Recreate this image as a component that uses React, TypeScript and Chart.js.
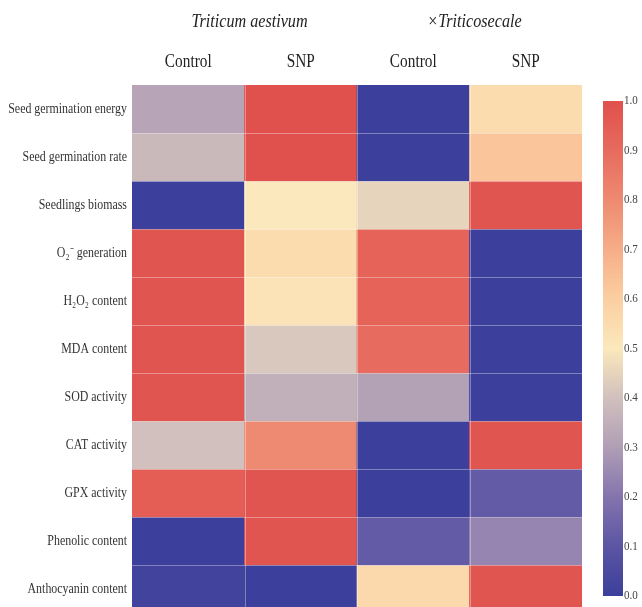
import { useEffect, useRef } from "react";
import { Chart, registerables } from "chart.js";

Chart.register(...registerables);

// Column groups and treatments
const species = ["Triticum aestivum", "×Triticosecale"];
const treatments = ["Control", "SNP", "Control", "SNP"];

// Row labels (traits)
const traits = [
  "Seed germination energy",
  "Seed germination rate",
  "Seedlings biomass",
  "O₂⁻ generation",
  "H₂O₂ content",
  "MDA content",
  "SOD activity",
  "CAT activity",
  "GPX activity",
  "Phenolic content",
  "Anthocyanin content",
];

// Normalised values, one array per column
const aestivumControl = [0.32, 0.38, 0.0, 0.98, 0.98, 0.98, 0.98, 0.4, 0.95, 0.0, 0.02];
const aestivumSnp = [1.0, 1.0, 0.5, 0.55, 0.52, 0.42, 0.35, 0.8, 0.98, 0.98, 0.0];
const secaleControl = [0.0, 0.0, 0.45, 0.93, 0.93, 0.9, 0.31, 0.0, 0.0, 0.12, 0.56];
const secaleSnp = [0.55, 0.63, 0.98, 0.0, 0.0, 0.0, 0.0, 0.98, 0.12, 0.24, 0.98];

// Colour bar ticks
const colorbarTicks = [0.0, 0.1, 0.2, 0.3, 0.4, 0.5, 0.6, 0.7, 0.8, 0.9, 1.0];

// Diverging colour map: blue -> pale yellow -> red
const cmapStops: [number, string][] = [
  [0.0, "#3c3f9b"],
  [0.1, "#5b55a3"],
  [0.2, "#8474ad"],
  [0.3, "#b09eb5"],
  [0.4, "#d1c0bd"],
  [0.5, "#fbe8bc"],
  [0.6, "#fbcfa1"],
  [0.7, "#f6ad88"],
  [0.8, "#ee8a71"],
  [0.9, "#e76b5e"],
  [1.0, "#e0504c"],
];

const FONT = '"Liberation Serif", "Times New Roman", serif';
const SQUEEZE = 0.85;

function hexToRgb(h: string): number[] {
  const n = parseInt(h.slice(1), 16);
  return [(n >> 16) & 255, (n >> 8) & 255, n & 255];
}

function colorFor(v: number): string {
  const t = Math.max(0, Math.min(1, v));
  for (let i = 0; i < cmapStops.length - 1; i++) {
    const [a, ca] = cmapStops[i];
    const [b, cb] = cmapStops[i + 1];
    if (t >= a && t <= b) {
      const f = (t - a) / (b - a);
      const A = hexToRgb(ca);
      const B = hexToRgb(cb);
      const c = A.map((x, k) => Math.round(x + (B[k] - x) * f));
      return `rgb(${c[0]},${c[1]},${c[2]})`;
    }
  }
  return cmapStops[cmapStops.length - 1][1];
}

// Narrow serif text, as in the typeset figure
function condensedText(
  ctx: CanvasRenderingContext2D,
  text: string,
  x: number,
  y: number,
  font: string,
  align: CanvasTextAlign,
  color: string
) {
  ctx.save();
  ctx.font = font;
  ctx.fillStyle = color;
  ctx.textAlign = align;
  ctx.textBaseline = "middle";
  ctx.translate(x, y);
  ctx.scale(SQUEEZE, 1);
  ctx.fillText(text, 0, 0);
  ctx.restore();
}

const columns = [aestivumControl, aestivumSnp, secaleControl, secaleSnp];

// Thin light lines between cells
const cellLines = {
  id: "cellLines",
  afterDatasetsDraw(chart: any) {
    const { ctx, chartArea, scales } = chart;
    const x = scales.x;
    const y = scales.y;
    ctx.save();
    ctx.strokeStyle = "rgba(255,255,255,0.35)";
    ctx.lineWidth = 1;
    ctx.beginPath();
    for (let c = 1; c < treatments.length; c++) {
      const px = Math.round((x.getPixelForValue(c - 1) + x.getPixelForValue(c)) / 2) + 0.5;
      ctx.moveTo(px, chartArea.top);
      ctx.lineTo(px, chartArea.bottom);
    }
    for (let r = 1; r < traits.length; r++) {
      const py = Math.round(y.getPixelForValue(r)) + 0.5;
      ctx.moveTo(chartArea.left, py);
      ctx.lineTo(chartArea.right, py);
    }
    ctx.stroke();
    ctx.restore();
  },
};

// Axis labels and species headers
const axisLabels = {
  id: "axisLabels",
  afterDraw(chart: any) {
    const { ctx, scales, chartArea } = chart;
    const x = scales.x;
    const y = scales.y;
    traits.forEach((name, r) => {
      condensedText(ctx, name, chartArea.left - 5, y.getPixelForValue(r + 0.5), `14px ${FONT}`, "right", "#333");
    });
    treatments.forEach((name, c) => {
      condensedText(ctx, name, x.getPixelForValue(c), 62, `18px ${FONT}`, "center", "#222");
    });
    species.forEach((name, i) => {
      const cx = (x.getPixelForValue(i * 2) + x.getPixelForValue(i * 2 + 1)) / 2 + 5;
      condensedText(ctx, name, cx, 22, `italic 19px ${FONT}`, "center", "#222");
    });
  },
};

// Vertical colour bar on the right
const colorBar = {
  id: "colorBar",
  afterDraw(chart: any) {
    const { ctx } = chart;
    const left = 603;
    const width = 20;
    const top = 101;
    const bottom = 596;
    ctx.save();
    const grad = ctx.createLinearGradient(0, bottom, 0, top);
    cmapStops.forEach(([s, c]) => grad.addColorStop(s, c));
    ctx.fillStyle = grad;
    ctx.fillRect(left, top, width, bottom - top);
    ctx.restore();
    colorbarTicks.forEach((t) => {
      const py = bottom - (bottom - top) * t;
      condensedText(ctx, t.toFixed(1), left + width + 1, py, `13px ${FONT}`, "left", "#444");
    });
  },
};

export default function App() {
  const ref = useRef<HTMLCanvasElement | null>(null);

  useEffect(() => {
    if (!ref.current) return;
    const datasets = traits.map((name, r) => {
      const vals = columns.map((col) => col[r]);
      return {
        label: name,
        data: vals.map(() => [r, r + 1]),
        backgroundColor: vals.map((v) => colorFor(v)),
        borderWidth: 0,
        barPercentage: 1,
        categoryPercentage: 1,
        grouped: false,
      };
    });

    const chart = new Chart(ref.current, {
      type: "bar",
      data: { labels: treatments, datasets: datasets as any },
      options: {
        animation: false,
        responsive: false,
        maintainAspectRatio: false,
        layout: { padding: { left: 0, right: 60, top: 0, bottom: 0 } },
        plugins: {
          legend: { display: false },
          tooltip: { enabled: false },
        },
        scales: {
          x: {
            type: "category",
            position: "top",
            grid: { display: false, drawTicks: false },
            border: { display: false },
            ticks: { display: false },
            afterFit(scale: any) {
              scale.height = 85;
              scale.paddingLeft = 0;
              scale.paddingRight = 0;
            },
          },
          y: {
            type: "linear",
            reverse: true,
            min: 0,
            max: 10.875,
            grid: { display: false, drawTicks: false },
            border: { display: false },
            ticks: { display: false },
            afterFit(scale: any) {
              scale.width = 132;
              scale.paddingTop = 0;
              scale.paddingBottom = 0;
            },
          },
        },
      },
      plugins: [cellLines, axisLabels, colorBar],
    });
    return () => chart.destroy();
  }, []);

  return (
    <div style={{ position: "fixed", left: 0, top: 0, width: 642, height: 607, background: "#fff" }}>
      <canvas ref={ref} width={642} height={607} style={{ display: "block" }} />
    </div>
  );
}
